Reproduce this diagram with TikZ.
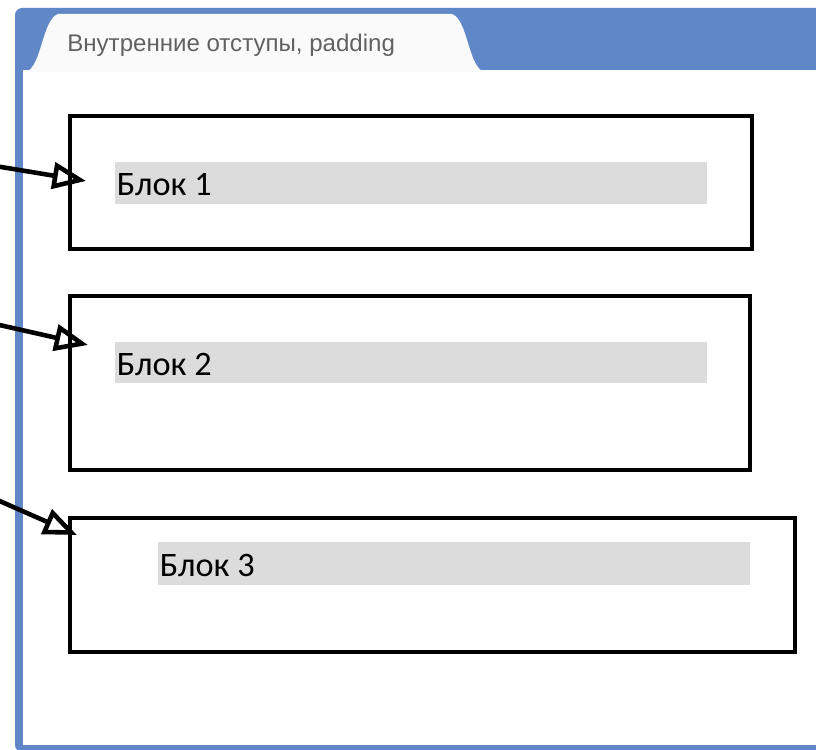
\documentclass[tikz,border=0pt]{standalone}
\usepackage{fontspec}
\usepackage{tikz}
\usetikzlibrary{arrows.meta,fit}
\newfontfamily\tabfont{Liberation Sans}
\newfontfamily\blokfont{Carlito}
\definecolor{frameblue}{HTML}{6088C8}
\definecolor{bargray}{HTML}{DCDCDC}

\begin{document}
\begin{tikzpicture}[x=0.02cm,y=-0.02cm,
  blok/.style={draw=black,line width=2.1pt,inner sep=0pt},
  bar/.style={fill=bargray,inner sep=0pt},
  bloktext/.style={font=\blokfont\fontsize{19.5}{23}\selectfont,inner sep=0pt,anchor=west,xshift=1pt,yshift=-1pt},
  pointer/.style={line width=2.6pt,-{Triangle[open,length=19pt,width=15pt]},fill=white}]
\useasboundingbox (0,0) rectangle (816,750);

% window and tab
\fill[frameblue,rounded corners=4pt] (15,8) rectangle (840,752);
\fill[white] (23,70) rectangle (840,745);
\fill[black!2] (26,72) .. controls (42,66) and (42,20) .. (58,14) -- (452,14)
  .. controls (468,20) and (468,66) .. (484,72) -- cycle;
\node[font=\tabfont\fontsize{13.7}{16}\selectfont,text=black!62,anchor=west,inner sep=0pt] (title) at (67,45) {Внутренние отступы, padding};

% blocks
\node[blok,fit={(70,116) (752,249)}] (b1) {};
\node[bar,fit={(115,162) (707,204)}] (bar1) {};
\node[bloktext] (t1) at (bar1.west) {Блок 1};

\node[blok,fit={(70,296) (750,470)}] (b2) {};
\node[bar,fit={(115,342) (707,383)}] (bar2) {};
\node[bloktext] (t2) at (bar2.west) {Блок 2};

\node[blok,fit={(70,518) (795,652)}] (b3) {};
\node[bar,fit={(158,542) (750,585)}] (bar3) {};
\node[bloktext] (t3) at (bar3.west) {Блок 3};

% arrows
\coordinate (s1) at (-5,166);
\coordinate (e1) at (86,181);
\coordinate (s2) at (-5,324);
\coordinate (e2) at (88,345);
\coordinate (s3) at (-5,499);
\coordinate (e3) at (77,535);
\draw[pointer] (s1) -- (e1);
\draw[pointer] (s2) -- (e2);
\draw[pointer] (s3) -- (e3);

\end{tikzpicture}
\end{document}
